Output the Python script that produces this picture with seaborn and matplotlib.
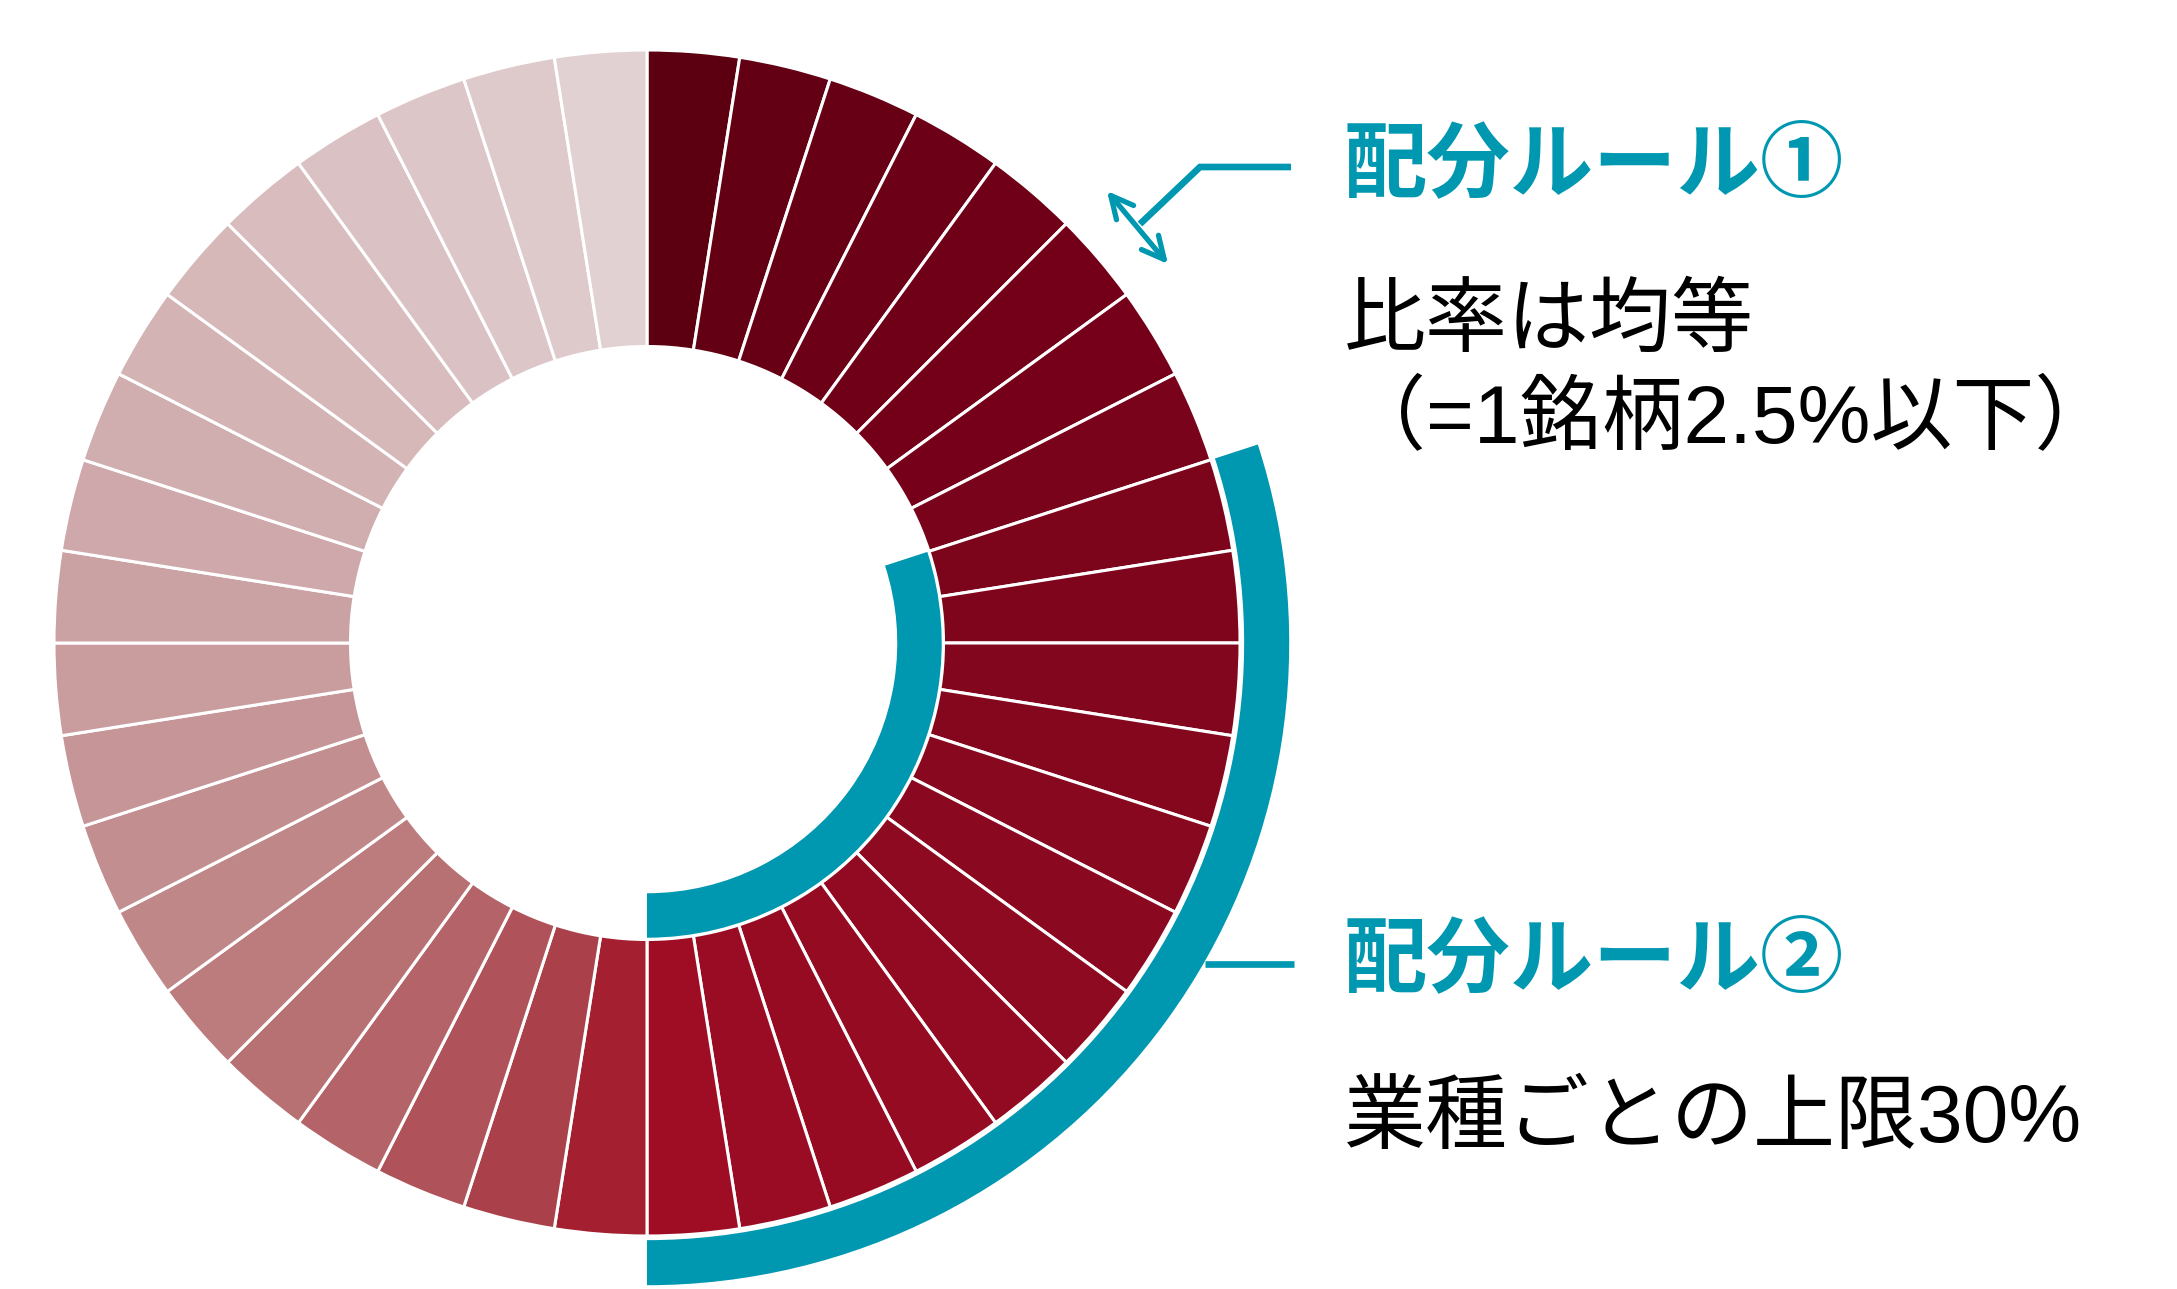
import matplotlib
matplotlib.use("Agg")
import matplotlib.pyplot as plt
import seaborn as sns

# 40 stocks, equal weight (2.5% each), clockwise from 12 o'clock
shares = [2.5] * 40
slice_colors = [
    "#5c0011", "#640014", "#680015", "#6c0016", "#700017",
    "#730018", "#760019", "#79031a", "#7c041b", "#7f051c",
    "#82061d", "#85071e", "#88081f", "#8b0920", "#8e0a21",
    "#910a21", "#940b22", "#970b22", "#9a0c23", "#9e0d24",
    "#a41f30", "#a9404a", "#af5259", "#b46468", "#b87172",
    "#bc7c7d", "#c08788", "#c38e90", "#c69597", "#c99c9e",
    "#cba2a4", "#cea8aa", "#d0adaf", "#d3b3b4", "#d6b8b9",
    "#d8bcbe", "#dac1c3", "#ddc6c7", "#dfcacb", "#e2d1d2",
]
# sector cap band: offset, 30% cap, remainder
sector_span = [20.0, 30.0, 50.0]

rule1_title = "配分ルール①"
rule1_lines = ["比率は均等", "（=1銘柄2.5%以下）"]
rule2_title = "配分ルール②"
rule2_line = "業種ごとの上限30%"

teal = "#0097b1"

sns.set_theme(style="white")
plt.rcParams["font.family"] = ["Liberation Sans", "Noto Sans CJK JP", "DejaVu Sans"]

W, H = 2177, 1289
CX, CY, R = 647, 643, 593


def fx(x):
    return (x - CX) / R


def fy(y):
    return (CY - y) / R


fig = plt.figure(figsize=(W / 100, H / 100), dpi=100)
ax = fig.add_axes([0, 0, 1, 1])

ax.pie(shares, colors=slice_colors, startangle=90, counterclock=False, radius=1.0,
       wedgeprops=dict(width=0.5, edgecolor="white", linewidth=2.2))

band_colors = ["none", teal, "none"]
ax.pie(sector_span, colors=band_colors, startangle=90, counterclock=False, radius=1.083,
       wedgeprops=dict(width=0.076, edgecolor="none", linewidth=0))
ax.pie(sector_span, colors=band_colors, startangle=90, counterclock=False, radius=0.497,
       wedgeprops=dict(width=0.075, edgecolor="none", linewidth=0))

ax.set_xlim(fx(0), fx(W))
ax.set_ylim(fy(H), fy(0))
ax.set_aspect("equal")
ax.axis("off")

# annotations
ax.text(fx(1344), fy(168), rule1_title, color=teal, fontsize=60, fontweight="bold",
        ha="left", va="center")
ax.text(fx(1344), fy(324), rule1_lines[0], color="black", fontsize=59, ha="left", va="center")
ax.text(fx(1344), fy(421), rule1_lines[1], color="black", fontsize=59, ha="left", va="center")
ax.text(fx(1344), fy(963), rule2_title, color=teal, fontsize=60, fontweight="bold",
        ha="left", va="center")
ax.text(fx(1344), fy(1121), rule2_line, color="black", fontsize=59, ha="left", va="center")

ax.plot([fx(1291), fx(1200), fx(1140)], [fy(167), fy(167), fy(224)], color=teal, lw=4.8,
        solid_joinstyle="miter", solid_capstyle="butt")
ax.annotate("", xy=(fx(1107), fy(191)), xytext=(fx(1168), fy(264)),
            arrowprops=dict(arrowstyle="<->,head_length=0.8,head_width=0.4", color=teal,
                            lw=3.8, shrinkA=0, shrinkB=0, mutation_scale=20))
ax.plot([fx(1205), fx(1294)], [fy(964), fy(964)], color=teal, lw=4.8, solid_capstyle="butt")

fig.savefig("out.png", dpi=100, facecolor="white")
